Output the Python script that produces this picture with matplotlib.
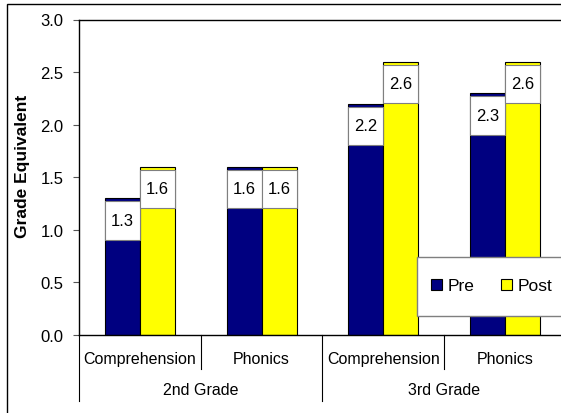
import numpy as np
import matplotlib.pyplot as plt
from matplotlib.patches import Rectangle, Patch

plt.rcParams['font.family'] = ['Liberation Sans', 'DejaVu Sans']

# data
subjects = ["Comprehension", "Phonics", "Comprehension", "Phonics"]
grades = ["2nd Grade", "3rd Grade"]
pre = [1.3, 1.6, 2.2, 2.3]
post = [1.6, 1.6, 2.6, 2.6]
yticks = [0.0, 0.5, 1.0, 1.5, 2.0, 2.5, 3.0]

W, H = 561, 414
fig = plt.figure(figsize=(W / 100, H / 100), dpi=100)
# plot area runs off the right edge, like the cropped original
ax = fig.add_axes([79 / W, 1 - 336 / H, 487 / W, 315.5 / H])

x = np.arange(len(subjects))
bw = 0.2875
navy, yellow = "#000080", "#FFFF00"

ax.bar(x - bw / 2, pre, bw, color=navy, edgecolor="black", linewidth=0.8, zorder=2)
ax.bar(x + bw / 2, post, bw, color=yellow, edgecolor="black", linewidth=0.8, zorder=2)

# white value boxes sitting just under the bar tops
gap, bh = 0.029, 0.365
for xs, vals in ((x - bw, pre), (x, post)):
    for xi, v in zip(xs, vals):
        ax.add_patch(Rectangle((xi, v - gap - bh), bw, bh, facecolor="white",
                               edgecolor="#7f7f7f", linewidth=0.8, zorder=3))
        ax.text(xi + bw / 2, v - gap - bh / 2, f"{v:.1f}", ha="center", va="center",
                fontsize=12, zorder=4)

ax.set_xlim(-0.5, len(subjects) - 0.5)
ax.set_ylim(0, 3.0)
ax.set_yticks(yticks)
ax.set_yticklabels([f"{t:.1f}" for t in yticks], fontsize=12)
ax.tick_params(axis="y", length=4, width=0.8, pad=7, color="#555555")
ax.set_xticks([])
for s in ax.spines.values():
    s.set_color("black")
    s.set_linewidth(1.0)

# two level category axis
tr = ax.get_xaxis_transform()
for xi, name in zip(x, subjects):
    ax.text(xi, -0.073, name, transform=tr, ha="center", va="center", fontsize=11.5)
for gi, g in enumerate(grades):
    ax.text(2 * gi + 0.5, -0.174, g, transform=tr, ha="center", va="center", fontsize=11.5)
for xb in (0.5, 2.5):
    ax.plot([xb, xb], [0, -0.108], transform=tr, color="black", lw=0.8, clip_on=False)
for xb in (-0.5, 1.5, 3.5):
    ax.plot([xb, xb], [0, -0.209], transform=tr, color="black", lw=0.8, clip_on=False)

fig.text(22.5 / W, 1 - 166 / H, "Grade Equivalent", rotation=90, ha="center", va="center",
         fontsize=12.5, fontweight="bold")

# legend box (also runs off the right edge)
fig.add_artist(Rectangle((416.5 / W, 1 - 317 / H), 0.5, 59 / H, transform=fig.transFigure,
                         facecolor="white", edgecolor="#7f7f7f", linewidth=1.0, zorder=4))
handles = [Patch(facecolor=navy, edgecolor="black", linewidth=0.8, label="Pre"),
           Patch(facecolor=yellow, edgecolor="black", linewidth=0.8, label="Post")]
leg = fig.legend(handles=handles, loc="center left", bbox_to_anchor=(431 / W, 1 - 287 / H),
                 ncol=2, frameon=False, fontsize=12.5, borderpad=0, borderaxespad=0,
                 handlelength=0.62, handleheight=0.62, handletextpad=0.35, columnspacing=1.5)
leg.set_zorder(5)

# outer chart border, cropped on the right and bottom
fig.add_artist(Rectangle((6.5 / W, -0.5), 2, 1.5 - 4.5 / H, transform=fig.transFigure,
                         facecolor="none", edgecolor="black", linewidth=1.0, zorder=6))

fig.savefig("out.png", dpi=100)
